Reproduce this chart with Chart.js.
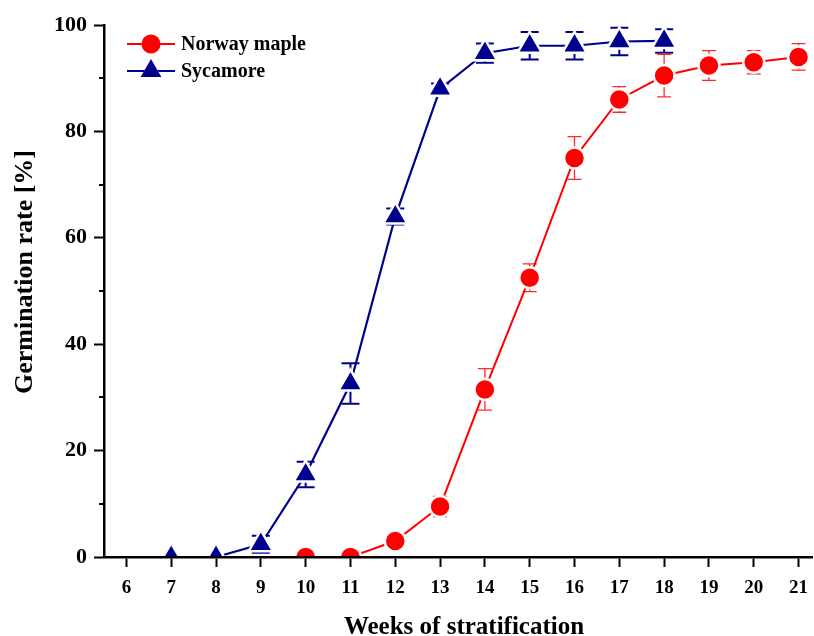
<!DOCTYPE html>
<html>
<head>
<meta charset="utf-8">
<script src="https://cdn.jsdelivr.net/npm/chart.js@4.4.0/dist/chart.umd.min.js"></script>
<style>
    html, body { margin: 0; padding: 0; background: #fff; }
    #wrap { width: 814px; height: 636px; }
</style>
</head>
<body>
<div id="wrap"><canvas id="chart" width="814" height="636"></canvas></div>
<script>
// values
const weekTicks = [6, 7, 8, 9, 10, 11, 12, 13, 14, 15, 16, 17, 18, 19, 20, 21];
const rateTicks = [0, 10, 20, 30, 40, 50, 60, 70, 80, 90, 100];

const mapleWeeks = [10, 11, 12, 13, 14, 15, 16, 17, 18, 19, 20, 21];
const mapleRate = [0, 0, 3, 9.5, 31.5, 52.5, 75, 86, 90.5, 92.4, 93, 94];
const mapleErr = [0, 0, 0.6, 1.9, 3.9, 2.6, 4, 2.4, 4, 2.8, 2.2, 2.5];

const sycamoreWeeks = [7, 8, 9, 10, 11, 12, 13, 14, 15, 16, 17, 18];
const sycamoreRate = [0, 0, 2.4, 15.5, 32.6, 64, 88, 94.7, 96.1, 96.1, 96.9, 97];
const sycamoreErr = [0, 0, 1.6, 2.4, 3.8, 1.5, 1, 1.8, 2.6, 2.6, 2.6, 2.2];

const RED = '#ff0000';
const BLUE = '#00008f';
const SERIF = '"Liberation Serif", "Times New Roman", serif';

function toPoints(xs, ys) {
    return xs.map((x, i) => ({ x, y: ys[i] }));
}

// error bars, drawn just before each dataset so its markers sit on top
const errorBars = {
    id: 'errorBars',
    beforeDatasetDraw(chart, args) {
        const ds = chart.data.datasets[args.index];
        if (!ds.errors) return;
        const { ctx, chartArea } = chart;
        const yScale = chart.scales.y;
        ctx.save();
        ctx.beginPath();
        ctx.rect(chartArea.left, chartArea.top, chartArea.width, chartArea.height);
        ctx.clip();
        ctx.strokeStyle = ds.errorColor;
        ctx.lineWidth = ds.errorWidth;
        args.meta.data.forEach((pt, i) => {
            const err = ds.errors[i];
            if (!err) return;
            const v = ds.data[i].y;
            const yTop = yScale.getPixelForValue(v + err);
            const yBot = yScale.getPixelForValue(v - err);
            const half = ds.capHalf;
            ctx.beginPath();
            ctx.moveTo(pt.x, yTop);
            ctx.lineTo(pt.x, yBot);
            ctx.moveTo(pt.x - half, yTop);
            ctx.lineTo(pt.x + half, yTop);
            ctx.moveTo(pt.x - half, yBot);
            ctx.lineTo(pt.x + half, yBot);
            ctx.stroke();
        });
        ctx.restore();
    },
};

// minor y ticks, axis titles and the legend box
const decorations = {
    id: 'decorations',
    afterDraw(chart) {
        const { ctx, chartArea } = chart;
        const yScale = chart.scales.y;
        ctx.save();

        ctx.strokeStyle = '#000';
        ctx.lineWidth = 2;
        rateTicks.filter((v) => v % 20 !== 0).forEach((v) => {
            const y = Math.round(yScale.getPixelForValue(v));
            ctx.beginPath();
            ctx.moveTo(chartArea.left - 5, y);
            ctx.lineTo(chartArea.left, y);
            ctx.stroke();
        });

        ctx.fillStyle = '#000';
        ctx.font = `bold 25px ${SERIF}`;
        ctx.textAlign = 'center';
        ctx.textBaseline = 'alphabetic';
        ctx.fillText('Weeks of stratification', 464, 634);

        ctx.save();
        ctx.font = `bold 26px ${SERIF}`;
        ctx.translate(32, 272);
        ctx.rotate(-Math.PI / 2);
        ctx.fillText('Germination rate [%]', 0, 0);
        ctx.restore();

        const rows = [44, 71];
        chart.data.datasets.forEach((ds, i) => {
            const y = rows[i];
            ctx.strokeStyle = ds.borderColor;
            ctx.fillStyle = ds.borderColor;
            ctx.lineWidth = 2;
            ctx.beginPath();
            ctx.moveTo(127, y);
            ctx.lineTo(175, y);
            ctx.stroke();
            Chart.helpers.drawPoint(ctx, {
                pointStyle: ds.pointStyle,
                radius: ds.legendRadius,
                rotation: 0,
                borderWidth: 0,
            }, 151, y);
            ctx.fillStyle = '#000';
            ctx.font = `bold 20px ${SERIF}`;
            ctx.textAlign = 'left';
            ctx.textBaseline = 'middle';
            ctx.fillText(ds.label, 181, y + 1);
        });
        ctx.restore();
    },
};

const plotClip = { left: 30, top: 30, right: 30, bottom: -1 };

const ctx = document.getElementById('chart').getContext('2d');
const chart = new Chart(ctx, {
    type: 'line',
    data: {
        datasets: [
            {
                label: 'Norway maple',
                data: toPoints(mapleWeeks, mapleRate),
                errors: mapleErr,
                errorColor: '#ff2a2a',
                errorWidth: 1.3,
                capHalf: 7,
                clip: plotClip,
                borderColor: RED,
                backgroundColor: RED,
                borderWidth: 2,
                pointStyle: 'circle',
                pointRadius: 10.5,
                legendRadius: 9.5,
                pointBackgroundColor: RED,
                pointBorderColor: '#fff',
                pointBorderWidth: 2.5,
                tension: 0,
            },
            {
                label: 'Sycamore',
                data: toPoints(sycamoreWeeks, sycamoreRate),
                errors: sycamoreErr,
                errorColor: BLUE,
                errorWidth: 2,
                capHalf: 9,
                clip: plotClip,
                borderColor: BLUE,
                backgroundColor: BLUE,
                borderWidth: 2.2,
                pointStyle: 'triangle',
                pointRadius: 14,
                legendRadius: 12,
                pointBackgroundColor: BLUE,
                pointBorderColor: '#fff',
                pointBorderWidth: 2.5,
                tension: 0,
            },
        ],
    },
    options: {
        responsive: false,
        animation: false,
        devicePixelRatio: 1,
        layout: { autoPadding: false, padding: { top: 25, right: 2, left: 0, bottom: 0 } },
        plugins: {
            legend: { display: false },
            tooltip: { enabled: false },
        },
        scales: {
            x: {
                type: 'linear',
                min: 5.5,
                max: 21.3,
                afterBuildTicks: (scale) => {
                    scale.ticks = weekTicks.map((value) => ({ value }));
                },
                afterFit: (scale) => {
                    scale.height = 79;
                    scale.paddingLeft = 0;
                    scale.paddingRight = 0;
                },
                border: { color: '#000', width: 2.5 },
                grid: {
                    drawOnChartArea: false,
                    tickLength: 10,
                    tickWidth: 2,
                    tickColor: '#000',
                },
                ticks: {
                    autoSkip: false,
                    maxRotation: 0,
                    padding: 10,
                    color: '#000',
                    font: { family: SERIF, size: 19, weight: 'bold' },
                },
            },
            y: {
                min: 0,
                max: 100,
                afterBuildTicks: (scale) => {
                    scale.ticks = rateTicks.map((value) => ({ value }));
                },
                afterFit: (scale) => {
                    scale.width = 104;
                    scale.paddingTop = 0;
                    scale.paddingBottom = 0;
                },
                border: { color: '#000', width: 2.5 },
                grid: {
                    drawOnChartArea: false,
                    tickLength: 10,
                    tickWidth: 2,
                    tickColor: (c) => (c.tick && c.tick.value % 20 === 0 ? '#000' : 'rgba(0,0,0,0)'),
                },
                ticks: {
                    autoSkip: false,
                    padding: 7,
                    color: '#000',
                    font: { family: SERIF, size: 22, weight: 'bold' },
                    callback: (v) => (v % 20 === 0 ? String(v) : ''),
                },
            },
        },
    },
    plugins: [errorBars, decorations],
});
</script>
</body>
</html>
